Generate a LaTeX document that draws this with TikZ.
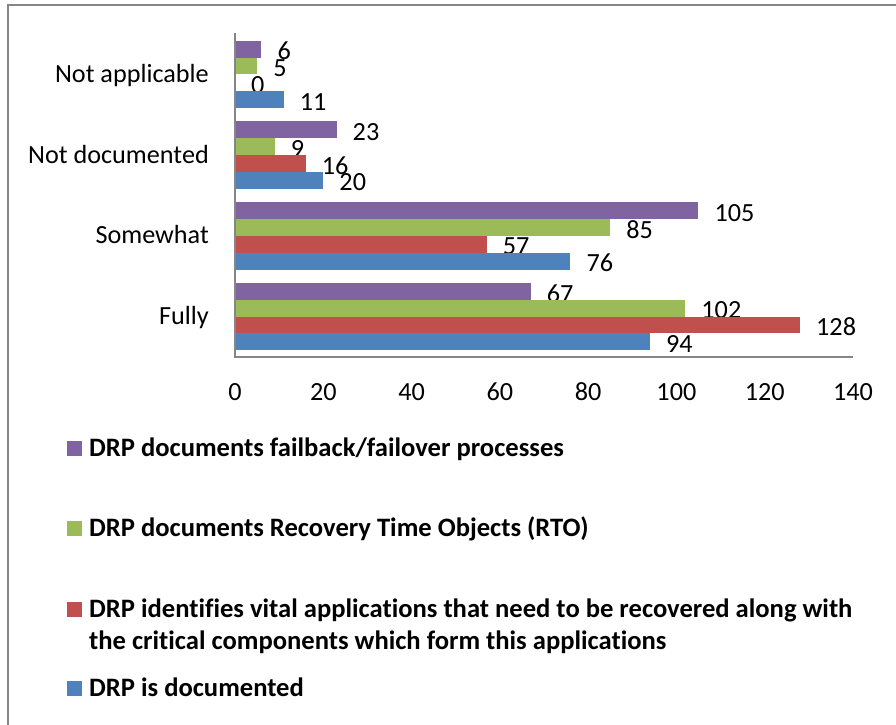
\documentclass[tikz,border=0pt]{standalone}
\usepackage{fontspec}
\setmainfont{Carlito}[Ligatures=NoCommon]
\definecolor{serBlue}{HTML}{4F81BD}
\definecolor{serRed}{HTML}{C0504D}
\definecolor{serGreen}{HTML}{9BBB59}
\definecolor{serPurple}{HTML}{8064A2}
\definecolor{axisgray}{HTML}{868686}
\begin{document}
\begin{tikzpicture}[x=1pt,y=-1pt,
  chartframe/.style={draw=axisgray,line width=1.5pt},
  axisline/.style={draw=axisgray,line width=1.5pt},
  catlabel/.style={anchor=base east,inner sep=0pt,font=\fontsize{26.2}{31}\selectfont},
  vallabel/.style={anchor=west,inner sep=0pt,font=\fontsize{26.2}{31}\selectfont},
  ticklabel/.style={anchor=base,inner sep=0pt,font=\fontsize{26.2}{31}\selectfont},
  legtext/.style={anchor=base west,inner sep=0pt,
    font=\fontsize{26.6}{32}\selectfont\bfseries},
  legkey/.style={anchor=north west,minimum size=15pt,inner sep=0pt}]
\clip (0,0) rectangle (896,724);
% outer chart border
\draw[chartframe] (8,5) rectangle (930,760);

% bars and their value labels; series 0..3 stacked from the top of each category
\foreach \s/\col/\vals in {0/serPurple/{6,23,105,67},1/serGreen/{5,9,85,102},
                           2/serRed/{0,16,57,128},3/serBlue/{11,20,76,94}}{
  \foreach \v [count=\c from 0] in \vals {
    \pgfmathsetmacro\bartop{34+\c*80.75+6.73+\s*16.82}
    \pgfmathsetmacro\barend{235+\v*4.414}
    \ifnum\v>0
      \fill[\col] (235,\bartop) rectangle (\barend,\bartop+16.82);
    \fi
    \node[vallabel] (val-\s-\c) at (\barend+16,\bartop+10.4) {\v};
  }
}

% axes
\coordinate (origin) at (235,357);
\coordinate (ytop) at (235,33);
\coordinate (xend) at (853,357);
\draw[axisline] (ytop) -- (origin) -- (xend);

% category labels
\foreach \name [count=\c from 0] in {Not applicable,Not documented,Somewhat,Fully}{
  \node[catlabel] (cat-\c) at (209,{34+\c*80.75+48.4}) {\name};
}

% value axis tick labels
\foreach \t in {0,20,...,140}{
  \node[ticklabel] (tick-\t) at ({235+\t*4.414},400) {\t};
}

% legend
\node[legkey,fill=serPurple] (key-p) at (67,441) {};
\node[legtext] (leg-p) at (89,456) {DRP documents failback/failover processes};
\node[legkey,fill=serGreen] (key-g) at (67,521) {};
\node[legtext] (leg-g) at (89,536) {DRP documents Recovery Time Objects (RTO)};
\node[legkey,fill=serRed] (key-r) at (67,602) {};
\node[legtext] (leg-r) at (89,617) {DRP identifies vital applications that need to be recovered along with};
\node[legtext] (leg-r2) at (89,649) {the critical components which form this applications};
\node[legkey,fill=serBlue] (key-b) at (67,681) {};
\node[legtext] (leg-b) at (89,696) {DRP is documented};
\end{tikzpicture}
\end{document}
